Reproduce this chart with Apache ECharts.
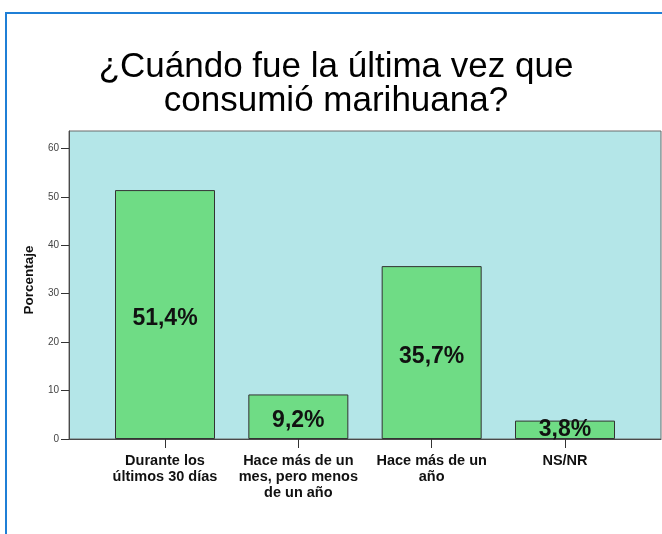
<!DOCTYPE html>
<html>
<head>
<meta charset="utf-8">
<script src="https://cdn.jsdelivr.net/npm/echarts@6/dist/echarts.min.js"></script>
<style>
html,body{margin:0;padding:0;background:#fff;}
#chart{width:662px;height:534px;}
</style>
</head>
<body>
<div id="chart"></div>
<script>
const titleText = "¿Cuándo fue la última vez que\nconsumió marihuana?";
const categories = ["Durante los\núltimos 30 días", "Hace más de un\nmes, pero menos\nde un año", "Hace más de un\naño", "NS/NR"];
const values = [51.4, 9.2, 35.7, 3.8];
const yTicks = [0, 10, 20, 30, 40, 50, 60];
const yName = "Porcentaje";

const catPositions = categories.map((c, i) => i);
const chart = echarts.init(document.getElementById('chart'), null, {renderer: 'canvas'});
chart.setOption({
  animation: false,
  backgroundColor: '#ffffff',
  graphic: [{
    type: 'rect',
    shape: {x: 6, y: 13, width: 700, height: 600},
    style: {fill: 'none', stroke: '#1f7fd6', lineWidth: 2},
    silent: true
  }],
  title: {
    text: titleText,
    left: 331,
    top: 45,
    textAlign: 'center',
    textStyle: {
      fontFamily: 'Liberation Sans, Arial, sans-serif',
      fontSize: 35,
      fontWeight: 'normal',
      color: '#000',
      lineHeight: 34
    }
  },
  grid: {
    left: 69, right: 1, top: 131, bottom: 95,
    show: true,
    backgroundColor: '#b4e6e8',
    borderColor: '#6a6a6a',
    borderWidth: 1,
    containLabel: false
  },
  xAxis: {
    type: 'value',
    min: -0.72,
    max: 3.72,
    splitLine: {show: false},
    axisLine: {show: true, onZero: false, lineStyle: {color: '#4a4a4a', width: 1}},
    axisTick: {show: true, customValues: catPositions, length: 9, lineStyle: {color: '#333'}},
    axisLabel: {
      show: true,
      customValues: catPositions,
      formatter: v => categories[Math.round(v)],
      fontFamily: 'Liberation Sans, Arial, sans-serif',
      fontWeight: 'bold',
      fontSize: 14.5,
      lineHeight: 16,
      color: '#111',
      margin: 14,
      align: 'center'
    }
  },
  yAxis: {
    type: 'value',
    min: 0,
    max: 63.6,
    name: yName,
    nameLocation: 'middle',
    nameRotate: 90,
    nameGap: 33,
    nameTextStyle: {
      fontFamily: 'Liberation Sans, Arial, sans-serif',
      fontWeight: 'bold',
      fontSize: 13.5,
      color: '#111',
      padding: [0, 0, 0, 10]
    },
    splitLine: {show: false},
    axisLine: {show: true, onZero: false, lineStyle: {color: '#4a4a4a', width: 1}},
    axisTick: {show: true, customValues: yTicks, length: 8, lineStyle: {color: '#333'}},
    axisLabel: {
      show: true,
      customValues: yTicks,
      fontFamily: 'Liberation Sans, Arial, sans-serif',
      fontSize: 10,
      color: '#444',
      margin: 10
    }
  },
  series: [{
    type: 'bar',
    barWidth: 100,
    data: values.map((v, i) => ({
      value: [i, v],
      label: {offset: [0, v < 5 ? 0 : 4]}
    })),
    itemStyle: {color: '#6fdc85', borderColor: '#333', borderWidth: 1},
    label: {
      show: true,
      position: 'inside',
      formatter: p => p.value[1].toFixed(1).replace('.', ',') + '%',
      fontFamily: 'Liberation Sans, Arial, sans-serif',
      fontWeight: 'bold',
      fontSize: 23,
      color: '#111'
    }
  }]
});
</script>
</body>
</html>
